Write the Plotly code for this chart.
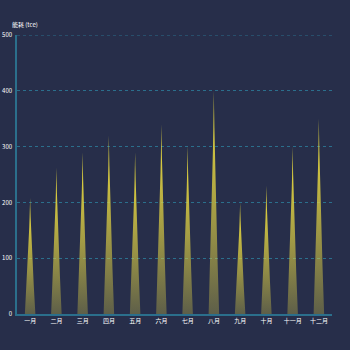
import plotly.graph_objects as go

months = ["一月", "二月", "三月", "四月", "五月", "六月",
          "七月", "八月", "九月", "十月", "十一月", "十二月"]
values = [208, 262, 290, 320, 290, 340, 302, 400, 200, 230, 300, 350]
y_ticks = [0, 100, 200, 300, 400, 500]
y_title = "能耗 (tce)"

bg = "#272e4a"
axis_col = "#2b6f8c"
grid_col = "#2b6f8c"
font_family = "Noto Sans CJK SC, Noto Sans, sans-serif"

half = 0.2  # half base width of each spike, in category units

fig = go.Figure()
for i, v in enumerate(values):
    # spike: slightly concave sides meeting at the value
    xs, ys = [], []
    n = 12
    for k in range(n + 1):
        t = k / n
        xs.append(i - half * (1 - t) ** 1.3)
        ys.append(v * t)
    for k in range(n, -1, -1):
        t = k / n
        xs.append(i + half * (1 - t) ** 1.3)
        ys.append(v * t)
    fig.add_trace(go.Scatter(
        x=xs, y=ys, mode="lines", fill="toself",
        line=dict(width=0),
        fillgradient=dict(
            type="vertical",
            colorscale=[[0, "rgba(235,220,70,0.28)"],
                        [0.6, "rgba(225,210,65,0.78)"],
                        [1, "rgba(245,230,60,1)"]],
        ),
        hoverinfo="skip", showlegend=False,
    ))

# top grid line at the axis maximum
fig.add_shape(type="line", xref="paper", yref="y", x0=0, x1=1,
              y0=y_ticks[-1], y1=y_ticks[-1],
              line=dict(color=grid_col, width=1, dash="dot"), layer="below")

fig.update_layout(
    width=350, height=350,
    margin=dict(l=17, r=18, t=35, b=36),
    paper_bgcolor=bg, plot_bgcolor=bg,
    font=dict(family=font_family, size=6, color="#ffffff"),
    xaxis=dict(
        range=[-0.5, 11.5], automargin=False,
        tickmode="array", tickvals=list(range(len(months))), ticktext=months,
        showgrid=False, zeroline=False,
        showline=True, linecolor=axis_col, linewidth=1.5,
        ticks="", tickfont=dict(size=6, color="#ffffff"),
    ),
    yaxis=dict(
        range=[0, 500], automargin=False,
        tickmode="array", tickvals=y_ticks,
        showgrid=True, gridcolor=grid_col, griddash="dot", gridwidth=1,
        zeroline=False,
        showline=True, linecolor=axis_col, linewidth=1.5,
        ticks="", ticklabelstandoff=2, tickfont=dict(size=6, color="#ffffff"),
    ),
    annotations=[dict(
        text=y_title, xref="paper", yref="paper", x=0, y=1,
        xanchor="center", yanchor="bottom", yshift=4, xshift=8,
        showarrow=False, font=dict(size=6, color="#ffffff"),
    )],
)

fig.write_html("out.html")
